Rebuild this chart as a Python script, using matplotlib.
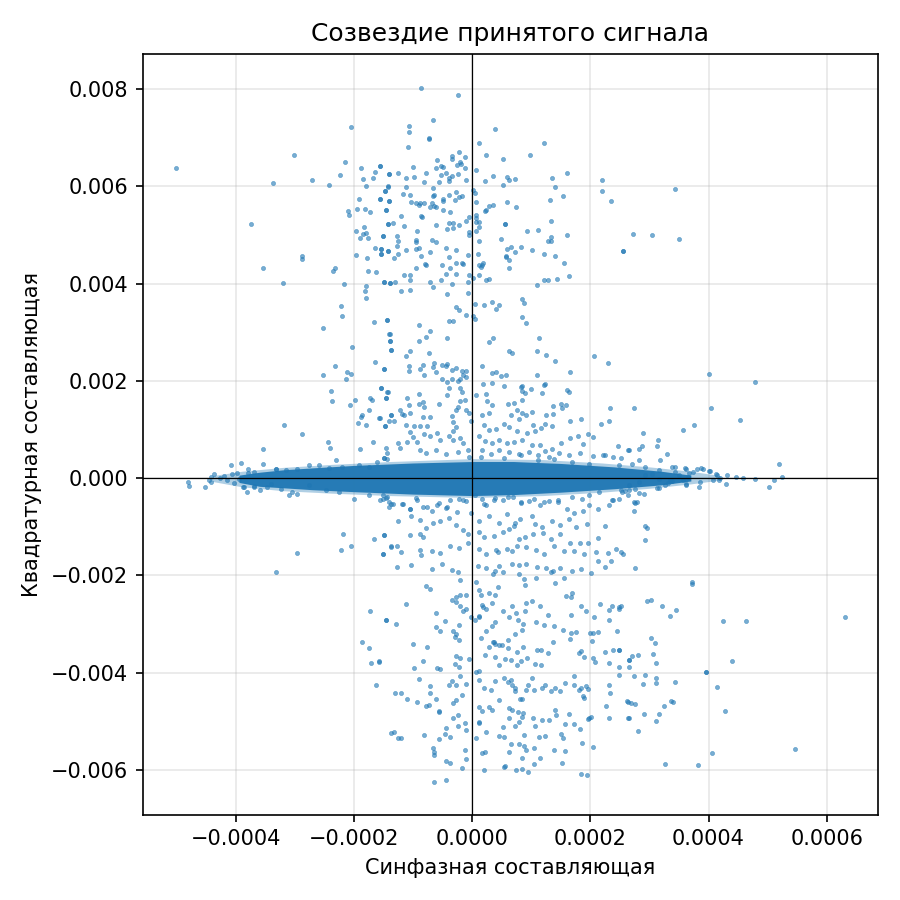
import numpy as np
import matplotlib
matplotlib.use("Agg")
import matplotlib.pyplot as plt

# x in units of 1e-4, y in units of 1e-3
X_UNIT = 1e-4
Y_UNIT = 1e-3

# sparse points above the dense band
upper_pts = [
    (-5.02, 6.37), (-2.05, 7.22), (-3.01, 6.64), (-2.16, 6.49), (-1.88, 6.37), (-1.56, 6.41),
    (-1.65, 6.30), (-1.41, 6.26), (-2.24, 6.24), (-3.38, 6.06), (-2.72, 6.12), (-2.43, 6.03),
    (-1.85, 6.14), (-1.68, 6.18), (-1.80, 6.00), (-1.43, 6.00), (-1.48, 5.91), (-1.92, 5.74),
    (-1.56, 5.74), (-1.41, 5.70), (-2.11, 5.50), (-2.09, 5.41), (-1.95, 5.54), (-1.82, 5.54),
    (-1.73, 5.48), (-1.46, 5.52), (-3.74, 5.23), (-1.43, 5.23), (-1.97, 5.08), (-1.84, 5.17),
    (-1.85, 5.02), (-1.80, 5.04), (-1.90, 4.94), (-1.77, 4.94), (-1.51, 4.98), (-1.65, 4.73),
    (-1.55, 4.70), (-1.55, 4.61), (-1.43, 4.67), (-2.89, 4.57), (-2.89, 4.50), (-1.97, 4.59),
    (-1.78, 4.52), (-3.54, 4.32), (-2.36, 4.26), (-2.32, 4.32), (-1.77, 4.26), (-1.63, 4.23),
    (-3.21, 4.01), (-2.18, 3.99), (-1.50, 4.03), (-1.39, 4.01), (-1.80, 3.94), (-1.82, 3.84),
    (-1.80, 3.70), (-2.23, 3.53), (-2.21, 3.34), (-2.52, 3.08), (-1.67, 3.20), (-1.44, 3.26),
    (-1.41, 2.97), (-1.39, 2.81), (-1.38, 2.64), (-2.04, 2.70), (-2.33, 2.31), (-1.65, 2.39),
    (-1.50, 2.25), (-2.12, 2.19), (-2.06, 2.14), (-2.52, 2.12), (-2.13, 2.04),
    (-0.86, 8.02), (-0.25, 7.88), (-0.67, 7.36), (-1.07, 7.23), (-1.07, 7.11), (-0.73, 7.00),
    (-0.74, 6.97), (-1.08, 6.80), (0.38, 7.17), (0.11, 6.88), (1.22, 6.90), (0.23, 6.64),
    (0.97, 6.64), (0.52, 6.57), (-0.35, 6.63), (-0.35, 6.56), (-0.23, 6.70), (-0.13, 6.61),
    (-0.60, 6.55), (-0.20, 6.49), (-0.19, 6.46), (-0.26, 6.43), (-0.53, 6.42), (-0.49, 6.39),
    (-1.01, 6.39), (-0.61, 6.37), (-0.13, 6.37), (0.07, 6.34), (-1.56, 6.41), (-1.41, 6.26),
    (-1.25, 6.28), (-0.78, 6.28), (-0.53, 6.24), (-0.45, 6.28), (-0.25, 6.26), (-0.35, 6.22),
    (-0.99, 6.20), (-1.13, 6.16), (-0.40, 6.16), (-0.40, 6.10), (-0.57, 6.08), (-0.81, 6.08),
    (-0.11, 6.12), (0.35, 6.22), (0.21, 6.10), (0.58, 6.20), (0.62, 6.12), (0.72, 6.14),
    (0.52, 6.03), (1.60, 6.28), (1.35, 6.18), (1.40, 5.99), (2.20, 6.12), (2.20, 5.91),
    (2.35, 5.70), (-1.42, 5.99), (-1.47, 5.91), (-1.12, 5.99), (-0.67, 5.97), (-1.56, 5.74),
    (-1.41, 5.70), (-1.17, 5.85), (-1.05, 5.83), (-0.67, 5.81), (-0.65, 5.82), (-0.39, 5.83),
    (-0.28, 5.89), (-0.18, 5.81), (-0.23, 5.77), (-0.30, 5.72), (-0.50, 5.74), (-0.49, 5.70),
    (-1.03, 5.68), (-0.95, 5.66), (-0.91, 5.62), (-0.88, 5.66), (-0.81, 5.66), (-0.72, 5.58),
    (-0.65, 5.60), (-0.62, 5.58), (-0.69, 5.66), (0.01, 5.93), (0.05, 5.87), (0.07, 5.68),
    (0.35, 5.62), (0.28, 5.60), (0.23, 5.52), (0.22, 5.50), (0.58, 5.68), (0.74, 5.58),
    (1.31, 5.72), (1.54, 5.81), (-1.46, 5.52), (-0.49, 5.52), (-0.37, 5.48), (-1.20, 5.39),
    (-0.86, 5.39), (-0.85, 5.37), (-1.42, 5.23), (-1.34, 5.25), (-1.15, 5.19), (-0.61, 5.21),
    (-0.40, 5.25), (-0.33, 5.25), (-0.23, 5.21), (-0.42, 5.13), (-0.32, 5.15), (-0.10, 5.29),
    (-0.06, 5.37), (0.06, 5.41), (0.07, 5.35), (0.07, 5.27), (0.12, 5.27), (0.11, 5.17),
    (0.07, 5.08), (-0.05, 5.05), (-0.05, 5.00), (-0.93, 5.08), (-1.51, 4.98), (-1.27, 4.98),
    (-1.25, 4.88), (-0.95, 4.90), (-0.95, 4.86), (-0.69, 4.89), (-0.62, 4.86), (0.55, 5.23),
    (0.56, 5.22), (0.48, 4.92), (0.92, 5.08), (1.11, 5.10), (1.33, 5.29), (1.33, 4.96),
    (1.33, 4.88), (1.28, 4.88), (1.60, 5.00), (0.11, 4.88), (-1.27, 4.77), (-1.54, 4.71),
    (-1.54, 4.61), (-1.42, 4.67), (-1.32, 4.52), (-1.25, 4.61), (-1.12, 4.69), (-0.96, 4.71),
    (-0.91, 4.73), (-0.86, 4.57), (-0.72, 4.65), (-0.44, 4.73), (-0.28, 4.69), (-0.39, 4.55),
    (-0.08, 4.59), (0.09, 4.61), (0.58, 4.70), (0.65, 4.75), (0.82, 4.75), (0.57, 4.57),
    (0.57, 4.55), (0.63, 4.48), (0.72, 4.65), (1.01, 4.69), (1.21, 4.61), (1.40, 4.57),
    (2.56, 4.67), (1.55, 4.42), (-0.80, 4.40), (-0.79, 4.38), (-0.95, 4.32), (-0.52, 4.38),
    (-0.37, 4.32), (-0.28, 4.42), (-0.18, 4.42), (-0.15, 4.40), (0.11, 4.38), (0.16, 4.38),
    (0.18, 4.42), (0.14, 4.34), (0.63, 4.32), (-1.15, 4.17), (-1.05, 4.17), (-1.05, 4.07),
    (-0.45, 4.19), (-0.27, 4.19), (-0.05, 4.17), (0.02, 4.12), (0.11, 4.17), (0.24, 4.07),
    (0.29, 4.09), (-0.53, 4.07), (-0.72, 4.03), (-0.67, 3.92), (-0.35, 3.99), (-0.08, 4.03),
    (-1.49, 4.03), (-1.39, 4.01), (-1.30, 4.03), (-1.20, 3.84), (-1.05, 3.86), (-0.42, 3.78),
    (-0.08, 3.81), (1.09, 3.97), (1.21, 4.07), (1.28, 4.07), (1.43, 4.09), (1.64, 4.15),
    (0.84, 3.68), (0.87, 3.59), (0.84, 3.32), (0.91, 3.18), (0.04, 3.57), (0.19, 3.55),
    (0.33, 3.63), (0.45, 3.55), (0.40, 3.47), (-0.28, 3.51), (-0.23, 3.45), (-0.11, 3.36),
    (0.01, 3.34), (0.04, 3.28), (-1.44, 3.26), (-0.40, 3.22), (-0.33, 3.22), (-0.91, 3.14),
    (-1.40, 2.97), (-1.39, 2.81), (-1.37, 2.64), (-0.72, 3.03), (-0.79, 2.91), (-0.91, 2.81),
    (-0.42, 2.87), (-0.74, 2.58), (-1.05, 2.62), (-1.13, 2.52), (0.35, 2.89), (0.29, 2.79),
    (1.13, 2.87), (0.62, 2.62), (0.68, 2.58), (1.09, 2.62), (1.25, 2.54), (1.40, 2.41),
    (2.06, 2.52), (2.30, 2.37), (1.65, 2.19), (-1.49, 2.25), (-1.07, 2.31), (-1.07, 2.21),
    (-0.84, 2.33), (-0.88, 2.25), (-0.81, 2.12), (-0.64, 2.37), (-0.66, 2.29), (-0.61, 2.19),
    (-0.52, 2.33), (-0.45, 2.31), (-0.42, 2.35), (-0.35, 2.23), (-0.28, 2.27), (-0.18, 2.21),
    (-0.11, 2.21), (-0.15, 2.12), (-0.10, 2.08), (-0.52, 2.04), (-0.42, 1.98), (-0.35, 2.04),
    (-0.25, 2.00), (-0.20, 2.04), (0.16, 2.31), (0.33, 2.17), (0.40, 2.19), (0.48, 2.09),
    (0.57, 2.11), (1.09, 2.11), (0.18, 1.94), (0.33, 1.96), (0.53, 1.90), (0.84, 1.90),
    (1.23, 1.94),
    (3.43, 5.95), (2.72, 5.02), (3.04, 5.00), (3.50, 4.92), (2.55, 4.67), (4.00, 2.14),
    (4.79, 1.98),
    (-2.40, 1.80), (-2.38, 1.59), (-2.07, 1.51), (-1.99, 1.61), (-1.73, 1.65), (-1.70, 1.61),
    (-1.55, 1.86), (-1.43, 1.76), (-1.46, 1.65), (-1.75, 1.40), (-1.87, 1.30), (-1.89, 1.26),
    (-1.94, 1.14), (-1.80, 1.10), (-1.58, 1.24), (-1.48, 1.07), (-1.41, 1.18), (-1.38, 1.30),
    (-3.18, 1.10), (-2.89, 0.91), (-3.54, 0.60), (-2.45, 0.74), (-2.41, 0.62), (-1.90, 0.60),
    (-1.68, 0.74), (-1.46, 0.62), (-1.50, 0.41), (-2.31, 0.37),
    (-1.54, 1.86), (-1.44, 1.76), (-1.46, 1.65), (-1.56, 1.24), (-1.47, 1.07), (-1.37, 1.30),
    (-1.33, 1.18), (-1.25, 0.72), (-1.22, 0.62), (-1.44, 0.52), (-1.49, 0.41), (-1.10, 1.65),
    (-1.07, 1.51), (-0.91, 1.72), (-1.22, 1.40), (-1.19, 1.32), (-1.15, 1.30), (-1.05, 1.34),
    (-0.91, 1.53), (-0.84, 1.57), (-0.81, 1.47), (-0.71, 1.26), (-0.84, 1.26), (-0.57, 1.53),
    (-0.43, 1.70), (-0.40, 1.86), (-0.20, 1.86), (-0.18, 1.76), (-0.21, 1.59), (-0.25, 1.47),
    (-0.28, 1.39), (-0.35, 1.28), (-0.33, 1.16), (-0.28, 1.05), (-0.32, 0.97), (-0.13, 1.61),
    (-0.10, 1.40), (-0.05, 1.34), (-0.03, 1.18), (-1.13, 1.10), (-0.99, 1.07), (-0.88, 1.07),
    (-0.76, 1.07), (-1.05, 0.95), (-1.01, 0.85), (-1.10, 0.74), (-0.93, 0.74), (-0.81, 0.91),
    (-0.72, 0.87), (-0.59, 0.93), (-0.54, 0.79), (-0.40, 0.87), (-0.33, 0.79), (-0.20, 0.83),
    (-0.15, 0.72), (-0.08, 0.58), (-0.06, 0.43), (-0.88, 0.58), (-0.78, 0.52), (-0.61, 0.58),
    (-0.45, 0.50), (-0.25, 0.54),
    (0.06, 1.70), (0.23, 1.72), (0.25, 1.59), (0.33, 1.51), (0.29, 1.34), (0.16, 1.30),
    (0.82, 1.88), (0.85, 1.80), (0.89, 1.74), (0.84, 1.61), (0.99, 1.84), (1.22, 1.92),
    (1.18, 1.74), (0.60, 1.53), (0.70, 1.55), (0.75, 1.39), (0.84, 1.34), (0.65, 1.30),
    (0.79, 1.22), (0.91, 1.30), (1.01, 1.36), (1.25, 1.30), (1.37, 1.49), (1.50, 1.53),
    (1.52, 1.45), (1.60, 1.82), (1.64, 1.76), (1.58, 1.51), (1.37, 1.32), (1.84, 1.22),
    (1.66, 1.18), (2.18, 1.12), (2.32, 1.18), (2.33, 1.45), (0.19, 1.10), (0.28, 0.99),
    (0.40, 1.01), (0.53, 1.12), (0.63, 1.05), (0.75, 0.97), (0.92, 0.93), (1.06, 0.97),
    (1.02, 1.10), (1.16, 1.03), (1.23, 1.12), (1.35, 1.07), (0.12, 0.87), (0.21, 0.76),
    (0.33, 0.72), (0.45, 0.79), (0.58, 0.72), (0.70, 0.74), (0.85, 0.79), (1.01, 0.68),
    (1.14, 0.68), (1.23, 0.56), (1.35, 0.60), (1.50, 0.72), (1.66, 0.83), (1.79, 0.87),
    (1.96, 0.91), (1.88, 0.70), (2.05, 0.85), (2.46, 0.66), (2.64, 0.58), (2.52, 0.41),
    (2.39, 0.43), (2.22, 0.47), (2.05, 0.45), (1.82, 0.52), (1.64, 0.47), (0.16, 0.58),
    (0.31, 0.50), (0.46, 0.58), (0.62, 0.54), (0.79, 0.50), (0.96, 0.54), (1.11, 0.47),
    (1.30, 0.43), (1.47, 0.52),
    (2.73, 1.45), (4.04, 1.45), (4.53, 1.20), (3.75, 1.10), (3.57, 0.99), (2.89, 0.93),
    (3.14, 0.79), (3.12, 0.66), (2.88, 0.66), (2.82, 0.60), (2.65, 0.58), (3.30, 0.50),
    (3.18, 0.37), (2.82, 0.37),
]

# sparse points below the dense band
lower_pts = [
    (-2.19, -1.16), (-2.22, -1.47), (-2.05, -1.40), (-2.96, -1.55), (-1.67, -1.26),
    (-1.50, -1.18), (-1.51, -1.57), (-1.38, -1.40), (-3.33, -1.94), (-1.41, -0.60),
    (-1.41, -0.49), (-1.51, -0.43),
    (-1.51, -0.35), (-1.37, -0.54), (-1.46, -0.41), (-1.19, -0.54), (-1.05, -0.64),
    (-0.95, -0.41), (-0.83, -0.60), (-0.69, -0.68), (-0.57, -0.52), (-0.45, -0.62),
    (-0.37, -0.45), (-0.22, -0.43), (-0.11, -0.47), (-1.25, -0.89), (-1.03, -0.77),
    (-0.88, -0.87), (-0.78, -1.03), (-0.67, -0.93), (-0.54, -0.89), (-0.39, -0.83),
    (-0.28, -0.97), (-0.16, -1.07), (-0.08, -1.16), (-0.03, -0.72), (-1.49, -1.18),
    (-1.37, -1.41), (-1.28, -1.39), (-1.20, -1.53), (-1.05, -1.18), (-0.88, -1.16),
    (-0.83, -1.22), (-0.88, -1.47), (-0.86, -1.59), (-0.69, -1.49), (-0.54, -1.55),
    (-0.37, -1.39), (-0.22, -1.43), (-0.08, -1.34), (-1.51, -1.57), (-1.28, -1.82),
    (-1.03, -1.78), (-0.69, -1.86), (-0.52, -1.76), (-0.35, -1.90), (-0.25, -1.94),
    (-0.21, -2.09),
    (0.04, -0.35), (0.16, -0.43), (0.24, -0.56), (0.38, -0.41), (0.52, -0.45), (0.69, -0.39),
    (0.82, -0.52), (0.96, -0.47), (1.14, -0.56), (1.30, -0.47), (1.45, -0.50), (1.60, -0.64),
    (1.72, -0.72), (1.88, -0.68), (1.98, -0.56), (2.13, -0.64), (2.32, -0.56), (2.39, -0.45),
    (2.49, -0.43), (2.64, -0.35), (0.12, -0.89), (0.29, -0.77), (0.45, -0.93), (0.58, -0.74),
    (0.72, -0.93), (0.80, -0.85), (1.01, -0.77), (1.06, -0.95), (1.18, -1.01), (1.35, -0.89),
    (1.48, -0.97), (1.64, -0.85), (1.76, -1.01), (1.94, -0.95), (2.25, -0.99), (0.12, -1.10),
    (0.19, -1.22), (0.36, -1.20), (0.52, -1.10), (0.63, -1.05), (0.70, -0.99), (0.79, -1.26),
    (0.89, -1.22), (1.02, -1.16), (1.19, -1.12), (1.33, -1.25), (1.48, -1.16), (1.66, -1.34),
    (1.82, -1.34), (1.96, -1.34), (2.13, -1.24), (2.30, -1.55), (2.44, -1.45), (2.52, -1.53),
    (0.11, -1.45), (0.24, -1.57), (0.41, -1.47), (0.43, -1.53), (0.58, -1.45), (0.67, -1.51),
    (0.75, -1.39), (0.91, -1.41), (1.08, -1.47), (1.21, -1.57), (1.38, -1.39), (1.55, -1.49),
    (1.72, -1.51), (1.89, -1.57), (2.10, -1.53), (2.13, -1.70), (2.25, -1.82), (2.35, -1.70),
    (0.09, -1.80), (0.23, -1.84), (0.38, -1.92), (0.46, -1.80), (0.67, -1.76), (0.79, -1.78),
    (0.91, -1.76), (1.09, -1.82), (1.25, -1.84), (1.37, -1.92), (1.49, -1.84), (1.69, -1.92),
    (1.84, -1.86), (2.01, -1.96), (0.35, -1.98), (0.52, -1.94), (0.79, -1.98), (0.87, -2.07),
    (1.08, -2.05), (1.33, -1.94), (1.55, -2.05),
    (2.73, -0.50), (2.75, -0.51), (2.73, -0.68), (2.92, -0.99), (2.95, -1.03), (2.93, -1.28),
    (2.55, -1.57), (2.75, -1.84), (3.72, -2.14),
    (-1.73, -2.74), (-1.46, -2.92), (-1.87, -3.38), (-1.75, -3.50), (-1.72, -3.81),
    (-1.58, -3.79), (-1.63, -4.25), (-1.38, -5.24),
    (-0.79, -2.22), (-0.72, -2.28), (-1.13, -2.59), (-1.46, -2.92), (-1.29, -3.00),
    (-0.61, -2.78), (-0.47, -2.94), (-0.62, -3.07), (-0.55, -3.15), (-1.00, -3.42),
    (-0.76, -3.48), (-1.58, -3.77), (-0.84, -3.77), (-0.98, -3.91), (-0.35, -2.51),
    (-0.27, -2.45), (-0.20, -2.41), (-0.11, -2.41), (-0.28, -2.55), (-0.20, -2.63),
    (-0.10, -2.69), (-0.16, -2.73), (-0.23, -3.02), (-0.32, -3.15), (-0.27, -3.21),
    (-0.30, -3.27), (-0.22, -3.33), (-0.28, -3.66), (-0.21, -3.70), (-0.30, -3.83),
    (-0.23, -3.89), (-0.06, -3.73), (-0.59, -3.91), (-0.54, -3.93), (-0.91, -4.14),
    (-0.71, -4.28), (-0.72, -4.43), (-0.61, -4.55), (-0.57, -4.80), (-0.56, -4.82),
    (-1.30, -4.43), (-1.20, -4.43), (-1.11, -4.55), (-0.93, -4.61), (-0.79, -4.69),
    (-0.74, -4.67), (-0.35, -4.18), (-0.40, -4.26), (-0.28, -4.26), (-0.20, -4.08),
    (-0.10, -4.24), (-0.18, -4.47), (-0.28, -4.57), (-0.33, -4.63), (-0.33, -4.94),
    (-0.25, -4.88), (-0.25, -5.09), (-0.45, -5.13), (-0.13, -5.04), (-0.11, -5.19),
    (-1.33, -5.23), (-1.26, -5.35), (-1.21, -5.35), (-0.81, -5.29), (-0.57, -5.37),
    (-0.47, -5.27), (-0.38, -5.33), (-0.67, -5.56), (-0.64, -5.64), (-0.64, -5.70),
    (-0.45, -5.81), (-0.38, -5.85), (-0.18, -5.97), (-0.11, -5.77), (-0.13, -5.60),
    (-0.64, -6.24), (-0.45, -6.20),
    (0.06, -2.14), (0.11, -2.30), (0.14, -2.41), (0.29, -2.36), (0.38, -2.41), (0.43, -2.24),
    (0.16, -2.61), (0.18, -2.65), (0.24, -2.69), (0.33, -2.57), (0.12, -2.84), (0.11, -2.86),
    (-0.03, -2.86), (0.04, -2.92), (0.33, -3.04), (0.38, -2.96), (0.24, -3.15), (0.14, -3.29),
    (0.35, -3.37), (0.38, -3.42), (0.52, -2.74), (0.63, -2.86), (0.67, -2.63), (0.74, -2.78),
    (0.77, -2.92), (0.86, -3.00), (0.89, -2.74), (0.91, -2.57), (1.01, -2.53), (1.14, -2.63),
    (1.28, -2.82), (1.08, -2.96), (1.21, -3.02), (1.38, -3.04), (0.89, -2.20), (1.40, -2.16),
    (1.69, -2.36), (1.67, -2.45), (1.59, -2.43), (1.84, -2.63), (1.93, -2.74), (1.67, -2.82),
    (2.06, -2.86), (2.16, -2.59), (2.32, -2.71), (2.37, -2.63), (2.51, -2.63), (2.32, -2.92),
    (2.04, -3.19), (1.99, -3.19), (2.13, -3.17), (2.45, -3.15), (2.03, -3.35), (0.36, -3.37),
    (0.45, -3.44), (0.60, -3.50), (0.75, -3.58), (0.86, -3.48), (0.84, -3.13), (0.72, -3.21),
    (0.60, -3.33), (0.50, -3.44), (0.21, -3.63), (0.29, -3.48), (0.38, -3.67), (0.45, -3.85),
    (0.55, -3.73), (0.65, -3.75), (0.75, -3.85), (0.82, -3.77), (0.92, -3.71), (1.06, -3.83),
    (1.17, -3.85), (1.16, -3.54), (1.09, -3.54), (1.28, -3.60), (1.37, -3.37), (1.54, -3.13),
    (1.67, -3.19), (1.76, -3.17), (1.66, -3.31), (1.81, -3.60), (1.84, -3.56), (1.89, -3.68),
    (2.04, -3.70), (2.08, -3.78), (2.25, -3.58), (2.39, -3.54), (2.49, -3.54), (2.32, -3.81),
    (2.48, -3.89), (0.07, -3.99), (0.11, -3.97), (0.11, -4.16), (0.19, -4.32), (0.31, -4.36),
    (0.38, -4.18), (0.53, -4.12), (0.60, -4.20), (0.65, -4.16), (0.68, -4.26), (0.72, -4.32),
    (0.73, -4.38), (0.80, -4.55), (0.84, -4.55), (0.91, -4.36), (0.94, -4.26), (1.01, -4.12),
    (1.04, -4.36), (1.18, -4.32), (1.23, -4.26), (1.33, -4.38), (1.40, -4.32), (1.48, -4.38),
    (1.57, -4.22), (1.72, -4.08), (1.72, -4.26), (1.81, -4.36), (1.84, -4.32), (1.93, -4.28),
    (1.96, -4.34), (1.88, -4.49), (1.89, -4.53), (2.32, -4.26), (2.33, -4.43), (2.27, -4.69),
    (2.32, -4.94), (2.64, -4.94), (1.98, -4.94), (0.12, -4.71), (0.28, -4.71), (0.16, -4.80),
    (0.12, -5.02), (0.11, -5.04), (0.33, -4.77), (0.45, -4.57), (0.63, -4.73), (0.67, -4.77),
    (0.77, -4.82), (0.86, -4.84), (0.84, -4.92), (0.63, -4.94), (0.72, -5.09), (0.79, -5.02),
    (0.87, -5.29), (1.02, -4.94), (1.06, -5.09), (1.18, -4.98), (1.30, -4.98), (1.40, -4.76),
    (1.42, -4.88), (1.57, -5.06), (1.72, -5.06), (1.82, -5.15), (1.96, -4.96), (2.01, -4.92),
    (1.63, -4.86), (0.07, -5.35), (0.24, -5.23), (0.45, -5.31), (0.52, -5.11), (0.53, -5.33),
    (0.65, -5.46), (0.79, -5.46), (0.87, -5.50), (0.91, -5.60), (1.04, -5.56), (1.13, -5.33),
    (1.23, -5.31), (1.38, -5.60), (1.50, -5.27), (1.54, -5.35), (1.57, -5.62), (1.86, -5.44),
    (2.05, -5.54), (1.15, -5.75), (0.84, -5.75), (0.63, -5.64), (0.21, -5.64), (0.16, -5.66),
    (0.19, -6.01), (0.53, -5.95), (0.55, -5.93), (0.74, -6.01), (0.84, -5.99), (0.94, -6.05),
    (1.04, -5.89), (1.52, -5.85), (1.84, -6.08), (1.94, -6.10), (2.65, -3.75), (2.64, -4.61),
    (2.62, -4.59), (2.48, -4.05),
    (3.72, -2.18), (2.95, -2.53), (3.02, -2.51), (3.21, -2.63), (3.45, -2.71), (3.35, -2.84),
    (2.49, -2.65), (2.49, -2.70), (4.25, -2.94), (4.64, -2.94), (6.31, -2.86), (3.02, -3.29),
    (3.09, -3.40), (2.49, -3.54), (2.70, -3.66), (2.80, -3.64), (2.66, -3.75), (3.06, -3.62),
    (3.11, -3.81), (2.65, -3.89), (4.40, -3.77), (3.96, -3.98), (3.96, -3.99), (2.73, -4.08),
    (2.92, -4.04), (2.89, -4.24), (3.11, -4.12), (3.11, -4.22), (3.43, -4.20), (4.15, -4.30),
    (2.68, -4.63), (2.75, -4.65), (3.24, -4.69), (3.36, -4.59), (3.40, -4.61), (2.90, -4.86),
    (3.16, -4.86), (2.65, -4.94), (3.11, -5.00), (2.80, -5.21), (4.27, -4.78), (5.46, -5.58),
    (4.05, -5.66), (3.26, -5.89), (3.82, -5.91),
]

# scattered points hugging the edges and tails of the dense band
fringe_pts = [
    (-4.08, 0.27), (-3.91, 0.31), (-4.37, 0.08), (-4.42, 0.02), (-4.45, -0.04), (-4.43, -0.08),
    (-4.81, -0.08), (-4.79, -0.17), (-4.52, -0.19), (-4.27, 0.00), (-4.06, 0.08), (-3.99, 0.10),
    (-4.03, -0.10), (-3.88, -0.19), (-3.82, -0.29), (-3.79, 0.19), (-3.79, 0.10), (-3.69, -0.17),
    (-3.54, 0.29), (-3.33, 0.19), (-3.48, -0.19), (-4.15, -0.05), (-4.20, 0.04), (-3.95, -0.02),
    (-3.86, -0.19), (-3.69, -0.19), (-3.40, -0.12), (-3.23, -0.23), (-3.06, -0.29), (-2.97, -0.33),
    (-2.77, -0.14), (-2.48, -0.25), (-2.26, -0.29), (-2.00, -0.43), (-3.60, -0.25), (-3.10, -0.35),
    (-3.33, 0.19), (-3.16, 0.17), (-2.97, 0.19), (-2.77, 0.27), (-2.60, 0.27), (-2.43, 0.21),
    (-2.21, 0.23), (-1.91, 0.27), (-1.74, 0.23), (-1.62, 0.33), (-1.45, 0.39), (-3.70, 0.12),
    (-1.74, -0.35), (-1.57, -0.46), (-1.45, -0.39), (-1.35, -0.54), (-1.18, -0.54), (-1.06, -0.64),
    (-0.94, -0.46), (-0.77, -0.60), (-0.60, -0.56), (-0.43, -0.60), (-0.26, -0.70), (-0.15, -0.46),
    (3.90, 0.19), (4.02, 0.14), (4.15, 0.06), (4.19, 0.00), (3.73, 0.12), (3.61, 0.19),
    (3.50, 0.06), (3.38, -0.06), (3.26, -0.14), (3.16, -0.02), (3.04, 0.08), (2.92, 0.06),
    (2.82, -0.08), (2.75, -0.23), (2.65, -0.14), (3.61, -0.12), (3.44, 0.23), (3.85, -0.08),
    (5.20, 0.29), (5.24, 0.02), (5.10, -0.04), (5.02, -0.19), (4.78, -0.02), (4.59, 0.00),
    (4.47, 0.02), (4.30, -0.12), (4.31, 0.06), (4.13, 0.08), (4.18, -0.04), (4.08, -0.04),
    (4.01, 0.14), (3.88, 0.21), (3.81, 0.19), (3.83, -0.19), (3.60, 0.21), (3.43, 0.12),
    (3.67, 0.10), (3.65, 0.02), (3.62, -0.14), (3.57, -0.04), (3.35, -0.04), (3.16, -0.21),
    (3.13, -0.21), (3.31, -0.10), (2.83, -0.31), (2.59, -0.27), (2.52, -0.25),
    (0.19, -0.54), (0.36, -0.46), (0.60, -0.39), (0.82, -0.50), (1.04, -0.43), (1.21, -0.50),
    (1.45, -0.46), (1.68, -0.39), (1.85, -0.43), (1.97, -0.35), (2.14, -0.29), (2.36, -0.46),
    (2.53, -0.29), (2.65, -0.25), (2.79, -0.50), (2.91, -0.33),
    (0.14, 0.43), (0.53, 0.41), (0.82, 0.48), (1.11, 0.37), (1.38, 0.39), (1.68, 0.33),
    (1.97, 0.29), (2.24, 0.48), (2.48, 0.27), (2.70, 0.29), (2.92, 0.23), (3.16, 0.17),
    (3.38, 0.23),
]

# envelope of the saturated core of the constellation
band_x = [-3.95, -3.6, -3.2, -2.7, -2.0, -1.0, 0.0, 0.7, 1.5, 2.4, 3.2, 3.7]
band_hi = [0.06, 0.12, 0.17, 0.21, 0.26, 0.31, 0.34, 0.34, 0.30, 0.23, 0.14, 0.06]
band_lo = [-0.09, -0.17, -0.20, -0.24, -0.28, -0.33, -0.36, -0.34, -0.29, -0.22, -0.14, -0.06]

# lighter halo around the core
halo_x = [-4.4, -3.9, -3.2, -2.4, -1.4, 0.0, 1.2, 2.2, 3.0, 3.7, 4.2]
halo_hi = [0.05, 0.14, 0.22, 0.28, 0.34, 0.40, 0.38, 0.31, 0.23, 0.14, 0.05]
halo_lo = [-0.07, -0.18, -0.26, -0.31, -0.36, -0.40, -0.36, -0.29, -0.21, -0.12, -0.04]

pts = np.array(upper_pts + lower_pts + fringe_pts)
xi = pts[:, 0] * X_UNIT
yq = pts[:, 1] * Y_UNIT

fig, ax = plt.subplots(figsize=(6, 6), dpi=150)

ax.fill_between(np.array(halo_x) * X_UNIT, np.array(halo_lo) * Y_UNIT,
                np.array(halo_hi) * Y_UNIT, color="#1f77b4", alpha=0.35,
                linewidth=0, antialiased=True, zorder=2)
ax.fill_between(np.array(band_x) * X_UNIT, np.array(band_lo) * Y_UNIT,
                np.array(band_hi) * Y_UNIT, color="#1f77b4", alpha=0.95,
                linewidth=0, zorder=2)
ax.scatter(xi, yq, s=4, alpha=0.6, color="#1f77b4", linewidths=0.3,
           edgecolors="#1f77b4", zorder=3)

ax.axhline(0, color="k", linewidth=0.6, zorder=4)
ax.axvline(0, color="k", linewidth=0.6, zorder=4)
ax.grid(True, alpha=0.3)
ax.set_axisbelow(True)

ax.set_xlim(-0.000558, 0.000686)
ax.set_ylim(-0.00692, 0.00872)

ax.set_title("Созвездие принятого сигнала")
ax.set_xlabel("Синфазная составляющая")
ax.set_ylabel("Квадратурная составляющая")

plt.tight_layout()
fig.savefig("out.png", dpi=150)
